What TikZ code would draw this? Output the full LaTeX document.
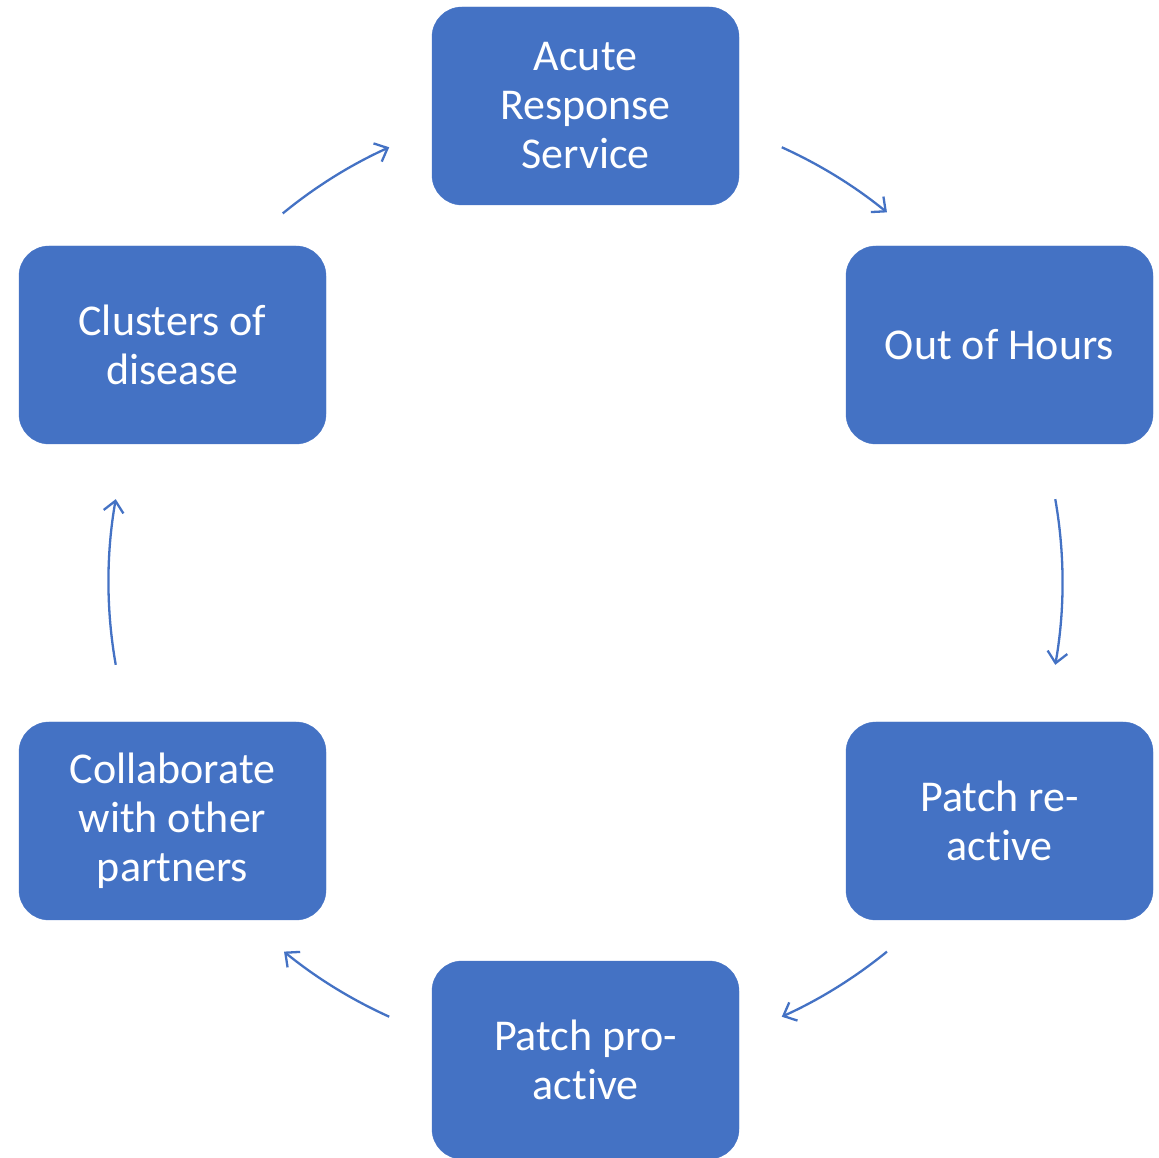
\documentclass[tikz,border=0pt]{standalone}
\usepackage{fontspec}
\setmainfont{Carlito}[Ligatures=NoCommon]
\usetikzlibrary{arrows.meta,calc}
\definecolor{boxblue}{HTML}{4472C4}
\tikzset{
  stage/.style={draw=boxblue, fill=boxblue, rounded corners=30pt, minimum width=307pt, minimum height=198pt,
    text=white, align=center, font=\fontsize{44}{49}\selectfont, inner sep=0pt},
  cyc/.style={draw=boxblue, line width=2.3pt, -{Straight Barb[length=11pt,width=20pt,line width=2.3pt]}}
}
\begin{document}
\begin{tikzpicture}[x=1pt,y=1pt]
\useasboundingbox (0,0) rectangle (1159,1157);
\clip (0,0) rectangle (1159,1157);
\coordinate (C) at (585.5,575);
\node[stage] (ars) at (585.5,1051) {Acute\\Response\\Service};
\node[stage] (ooh) at (999.5,812) {Out of Hours};
\node[stage] (pre) at (999.5,336) {Patch re-\\active};
\node[stage] (ppro) at (585.5,97) {Patch pro-\\active};
\node[stage] (col) at (172.5,336) {Collaborate\\with other\\partners};
\node[stage] (clu) at (172.5,812) {Clusters of\\disease};
\def\R{477}
\coordinate (a1) at ($(C)+(65.7:\R)$);
\coordinate (a2) at ($(C)+(10:\R)$);
\coordinate (a3) at ($(C)+(-50.8:\R)$);
\coordinate (a4) at ($(C)+(245.7:\R)$);
\coordinate (a5) at ($(C)+(190:\R)$);
\coordinate (a6) at ($(C)+(129.4:\R)$);
\draw[cyc] (a1) arc[start angle=65.7, end angle=50.8, radius=\R];
\draw[cyc] (a2) arc[start angle=10, end angle=-10, radius=\R];
\draw[cyc] (a3) arc[start angle=-50.8, end angle=-65.7, radius=\R];
\draw[cyc] (a4) arc[start angle=245.7, end angle=230.8, radius=\R];
\draw[cyc] (a5) arc[start angle=190, end angle=170, radius=\R];
\draw[cyc] (a6) arc[start angle=129.4, end angle=114.3, radius=\R];
\end{tikzpicture}
\end{document}
